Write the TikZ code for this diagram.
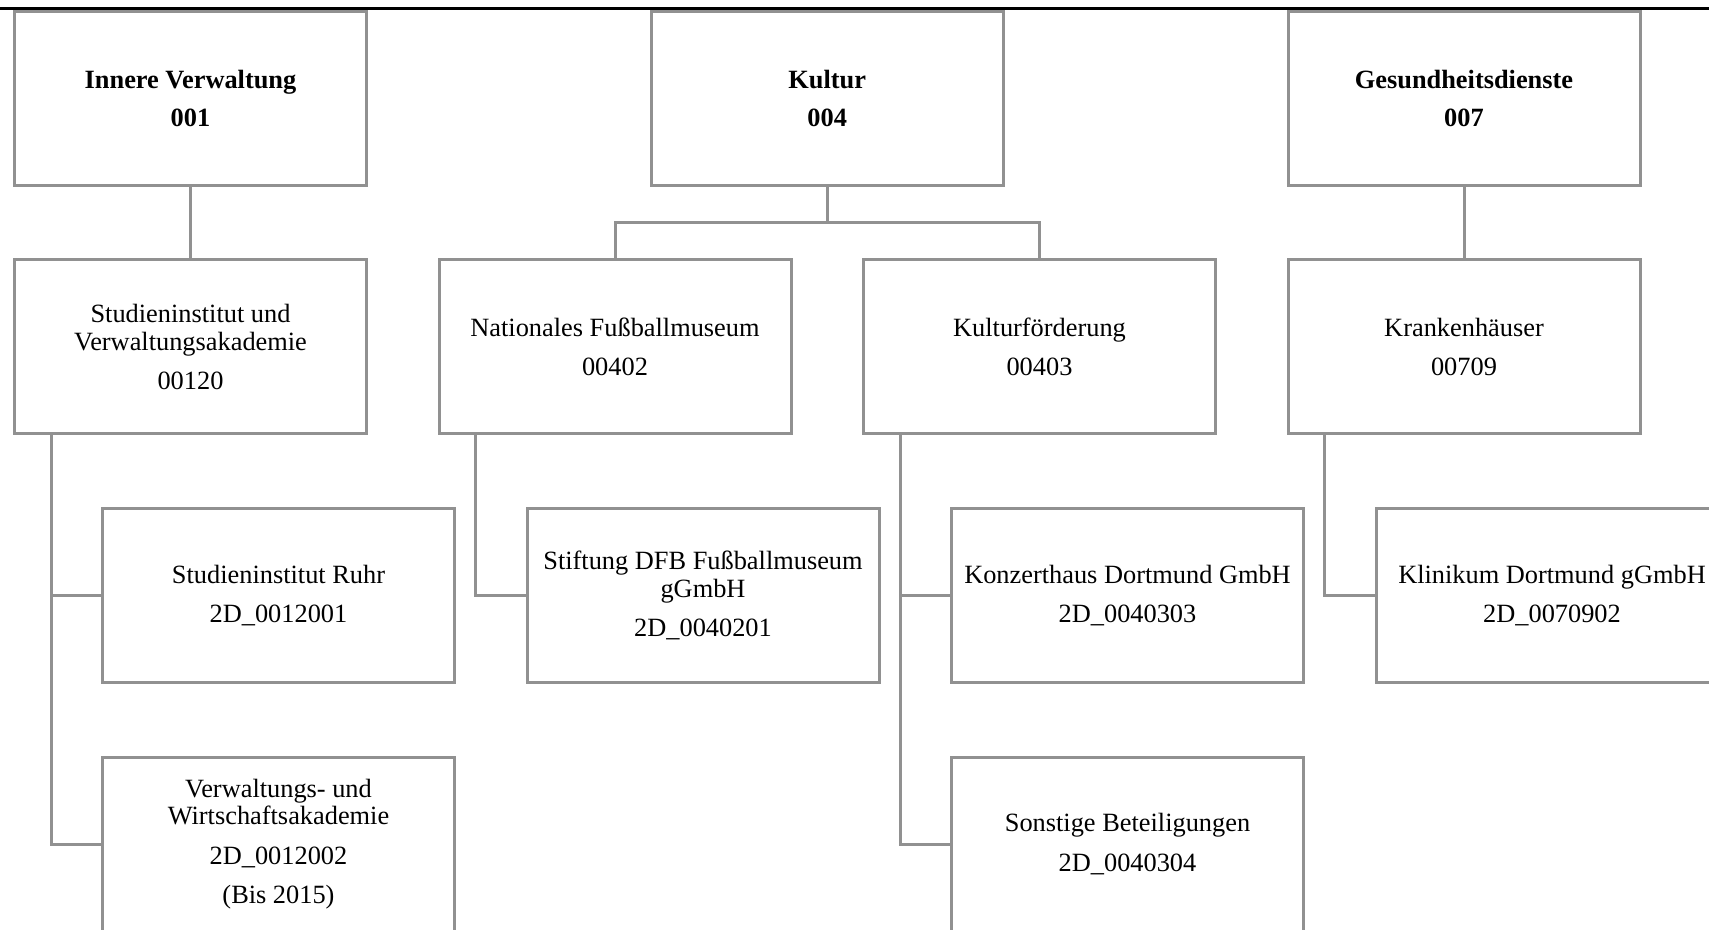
\documentclass[tikz,border=0pt]{standalone}
\usepackage{fontspec}
\setmainfont{Liberation Serif}
\usetikzlibrary{calc, chains, positioning}
\definecolor{boxgray}{RGB}{145,145,145}

\begin{document}
\begin{tikzpicture}[
            node distance = 1.43cm and 1.39cm,
            start chain = L going right,
            base/.style = {draw=boxgray, line width=0.06cm, rectangle,
                    minimum width=7.04cm, minimum height=3.48cm,
                    inner sep=0pt, align=center,
                    font=\fontsize{15}{15.7}\selectfont},
            head/.style = {base, font=\fontsize{15}{15.7}\selectfont\bfseries},
            unit/.style = {base, on chain=L},
            firm/.style = {base},
            link/.style = {draw=boxgray, line width=0.06cm}]

        \useasboundingbox (0,0) rectangle (34.18,-18.6);
        \clip (0,0) rectangle (34.18,-18.6);
        \draw [line width=0.06cm] (0,-0.175) -- (34.18,-0.175);

        % second row
        \node [unit] at (3.81,-6.94) {Studieninstitut und\\Verwaltungsakademie\\[6.6pt]00120}; % L-1
        \node [unit]            {Nationales Fußballmuseum\\[6.6pt]00402}; % L-2
        \node [unit]            {Kulturförderung\\[6.6pt]00403}; % L-3
        \node [unit]            {Krankenhäuser\\[6.6pt]00709}; % L-4

        % top row
        \coordinate (kmid) at ($(L-2.north)!0.5!(L-3.north)$);
        \node [head, above=of L-1]  (G001) {Innere Verwaltung\\[6pt]001};
        \node [head, above=of kmid] (G004) {Kultur\\[6pt]004};
        \node [head, above=of L-4]  (G007) {Gesundheitsdienste\\[6pt]007};

        % Beteiligungen
        \node [firm, below=of L-1, xshift=1.76cm] (B0012001) {Studieninstitut Ruhr\\[6.6pt]2D\_0012001};
        \node [firm, below=of B0012001]           (B0012002) {Verwaltungs- und\\Wirtschaftsakademie\\[6.6pt]2D\_0012002\\[6.6pt](Bis 2015)};
        \node [firm, below=of L-2, xshift=1.76cm] (B0040201) {Stiftung DFB Fußballmuseum\\gGmbH\\[6.6pt]2D\_0040201};
        \node [firm, below=of L-3, xshift=1.76cm] (B0040303) {Konzerthaus Dortmund GmbH\\[6.6pt]2D\_0040303};
        \node [firm, below=of B0040303]           (B0040304) {Sonstige Beteiligungen\\[6.6pt]2D\_0040304};
        \node [firm, below=of L-4, xshift=1.76cm] (B0070902) {Klinikum Dortmund gGmbH\\[6.6pt]2D\_0070902};
        %%
        \draw [link] (G001) -- (L-1);
        \draw [link] (G004.south) -- ++(0,-0.71) coordinate (kbar)
            -| (L-2.north) (kbar) -| (L-3.north);
        \draw [link] (G007) -- (L-4);

        \draw [link] ([xshift=0.76cm] L-1.south west) |- (B0012001.west);
        \draw [link] ([xshift=0.76cm] L-1.south west) |- (B0012002.west);
        \draw [link] ([xshift=0.76cm] L-2.south west) |- (B0040201.west);
        \draw [link] ([xshift=0.76cm] L-3.south west) |- (B0040303.west);
        \draw [link] ([xshift=0.76cm] L-3.south west) |- (B0040304.west);
        \draw [link] ([xshift=0.76cm] L-4.south west) |- (B0070902.west);
    \end{tikzpicture}
\end{document}
